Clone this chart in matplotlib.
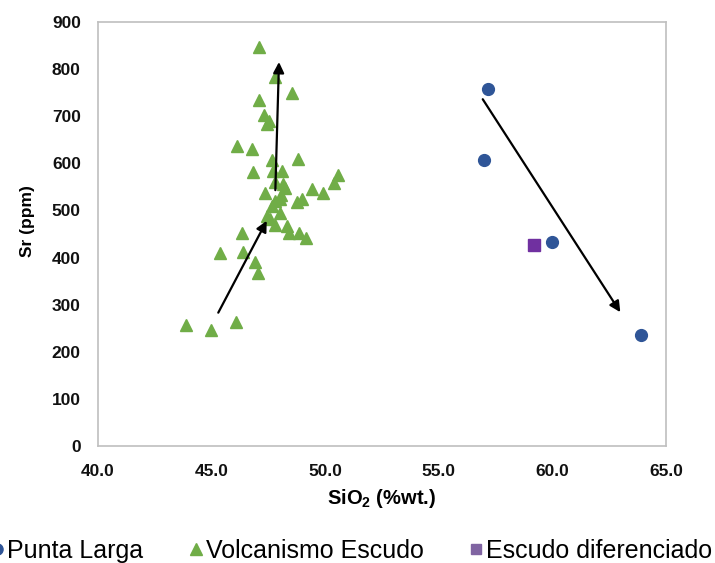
import numpy as np
import matplotlib
matplotlib.use("Agg")
import matplotlib.pyplot as plt
from matplotlib.lines import Line2D

plt.rcParams['font.family'] = ['Liberation Sans', 'DejaVu Sans']
plt.rcParams['mathtext.fontset'] = 'custom'
plt.rcParams['mathtext.rm'] = 'Liberation Sans:bold'
plt.rcParams['mathtext.bf'] = 'Liberation Sans:bold'

# Punta Larga (blue circles)
pl_sio2 = [57.16, 56.98, 59.99, 63.90]
pl_sr = [757, 606, 433, 236]

# Volcanismo Escudo (green triangles)
ve_sio2 = [47.09, 47.81, 48.57, 47.12, 47.31, 47.55, 47.44, 46.12, 46.81, 47.66,
           48.80, 46.84, 47.71, 48.11, 47.81, 48.17, 48.25, 50.59, 50.39, 49.43,
           49.92, 47.38, 48.07, 49.01, 48.76, 47.81, 48.01, 47.66, 47.44, 48.03,
           47.59, 47.81, 48.32, 48.43, 48.87, 49.16, 46.34, 45.39, 46.39, 46.93,
           47.07, 43.89, 44.99, 46.09]
ve_sr = [847, 784, 749, 734, 703, 690, 684, 637, 630, 606,
         610, 581, 584, 584, 560, 556, 548, 575, 559, 545,
         538, 536, 533, 524, 517, 520, 524, 509, 489, 494,
         481, 469, 466, 452, 453, 441, 452, 409, 412, 390,
         367, 257, 246, 264]

# Escudo diferenciado (purple square)
ed_sio2 = [59.2]
ed_sr = [427]

# trend arrows (start, end)
arrows = [((45.31, 283), (47.44, 478)),
          ((47.82, 543), (47.98, 815)),
          ((56.94, 736), (62.99, 284))]

green = '#70AD47'
blue = '#2F5597'
purple = '#7030A0'

fig = plt.figure(figsize=(7.15, 5.63), dpi=100)
ax = fig.add_axes([0.1364, 0.2078, 0.7951, 0.7532])

ax.plot(ve_sio2, ve_sr, linestyle='none', marker='^', ms=8, color=green,
        markeredgecolor=green, zorder=2)
ax.plot(pl_sio2, pl_sr, linestyle='none', marker='o', ms=8.5, color=blue,
        markeredgecolor=blue, zorder=2)
ax.plot(ed_sio2, ed_sr, linestyle='none', marker='s', ms=8, color=purple,
        markeredgecolor=purple, zorder=2)

for (x0, y0), (x1, y1) in arrows:
    ax.annotate('', xy=(x1, y1), xytext=(x0, y0),
                arrowprops=dict(arrowstyle='-|>', color='black', lw=1.6,
                                mutation_scale=16, shrinkA=0, shrinkB=0),
                zorder=3)

ax.set_xlim(40, 65)
ax.set_ylim(0, 900)
ax.set_xticks(np.arange(40, 65.1, 5))
ax.set_xticklabels([f'{v:.1f}' for v in np.arange(40, 65.1, 5)])
ax.set_yticks(np.arange(0, 901, 100))
ax.tick_params(length=0, labelsize=12.5, pad=12, colors='#111111')
ax.tick_params(axis='x', pad=13)
for lab in ax.get_xticklabels() + ax.get_yticklabels():
    lab.set_fontweight('bold')
for s in ax.spines.values():
    s.set_color('#BFBFBF')
    s.set_linewidth(1.2)

ax.set_ylabel('Sr (ppm)', fontsize=12.5, fontweight='bold')
ax.yaxis.set_label_coords(-0.11, 0.53)
ax.set_xlabel(r'SiO$_\mathbf{2}$ (%wt.)', fontsize=14.5, fontweight='bold', labelpad=6)

handles = [
    Line2D([], [], linestyle='none', marker='o', ms=8, color=blue),
    Line2D([], [], linestyle='none', marker='^', ms=8, color=green),
    Line2D([], [], linestyle='none', marker='s', ms=7, color='#8064A2'),
]
labels = ['Punta Larga', 'Volcanismo Escudo', 'Escudo diferenciado']
fig.legend(handles, labels, loc='center', bbox_to_anchor=(0.492, 0.022), ncol=3,
           frameon=False, fontsize=18, handlelength=0.5, handletextpad=0.15,
           columnspacing=1.85)

fig.savefig('out.png', dpi=100)
